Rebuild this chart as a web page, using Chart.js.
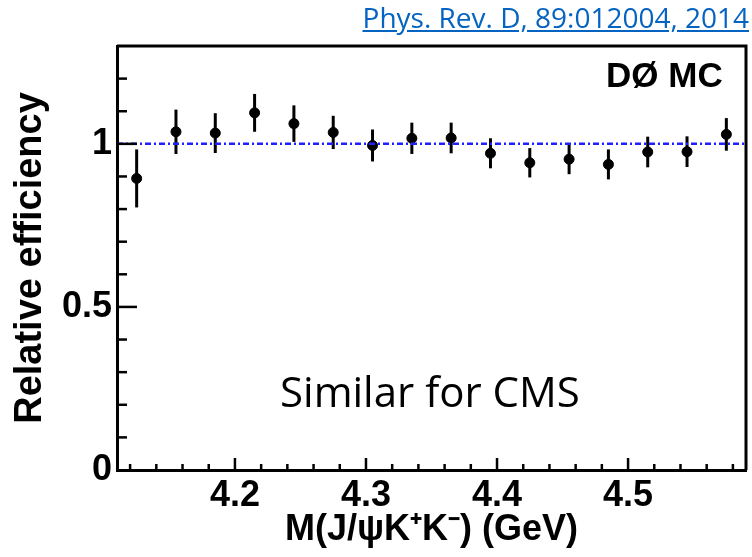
<!DOCTYPE html>
<html>
<head>
<meta charset="utf-8">
<script src="https://cdn.jsdelivr.net/npm/chart.js@4/dist/chart.umd.min.js"></script>
<style>
  body { margin: 0; background: white; }
  #wrap { position: relative; width: 752px; height: 557px; overflow: hidden; }
  #ref {
    position: absolute; right: 3px; top: 3px;
    font-family: "Open Sans"; font-size: 28px; line-height: 1;
    color: #0563c1; text-decoration: underline; white-space: nowrap;
  }
  #d0 {
    position: absolute; left: 606px; top: 57px;
    font-family: "Liberation Sans"; font-weight: bold; font-size: 35px; line-height: 1;
    white-space: nowrap;
  }
  #cms {
    position: absolute; left: 280px; top: 370px;
    font-family: "Open Sans"; font-size: 42px; line-height: 1;
    white-space: nowrap;
  }
</style>
</head>
<body>
<div id="wrap">
  <canvas id="chart1" width="752" height="557"></canvas>
  <a id="ref" href="https://doi.org/10.1103/PhysRevD.89.012004">Phys. Rev. D, 89:012004, 2014</a>
  <div id="d0">DØ MC</div>
  <div id="cms">Similar for CMS</div>
</div>
<script>
// bin centres of M(J/psi K+K-) in GeV, relative efficiency and its error
const massBins = [4.125, 4.155, 4.185, 4.215, 4.245, 4.275, 4.305, 4.335,
                  4.365, 4.395, 4.425, 4.455, 4.485, 4.515, 4.545, 4.575];
const relEff = [0.894, 1.037, 1.033, 1.095, 1.062, 1.035, 0.995, 1.017,
                1.018, 0.971, 0.942, 0.953, 0.937, 0.975, 0.976, 1.029];
const effErr = [0.089, 0.068, 0.061, 0.058, 0.056, 0.051, 0.049, 0.048,
                0.047, 0.046, 0.045, 0.046, 0.046, 0.047, 0.047, 0.05];

const xRange = [4.11, 4.59];
const yRange = [0, 1.3];
const xTickValues = [4.2, 4.3, 4.4, 4.5];
const yTickValues = [0, 0.5, 1];
const refLevel = 1;

const boldFont = { family: "Liberation Sans", weight: "bold", size: 36 };

// error bars, drawn under the markers
const errorBars = {
  id: "errorBars",
  beforeDatasetsDraw(chart) {
    const { ctx, scales } = chart;
    ctx.save();
    ctx.strokeStyle = "black";
    ctx.lineWidth = 3;
    massBins.forEach((m, i) => {
      const px = scales.x.getPixelForValue(m);
      ctx.beginPath();
      ctx.moveTo(px, scales.y.getPixelForValue(relEff[i] - effErr[i]));
      ctx.lineTo(px, scales.y.getPixelForValue(relEff[i] + effErr[i]));
      ctx.stroke();
    });
    ctx.restore();
  },
};

// ROOT style frame: top/right edges and ticks pointing inwards
const frameTicks = {
  id: "frameTicks",
  afterDraw(chart) {
    const { ctx, chartArea: a, scales } = chart;
    ctx.save();
    ctx.strokeStyle = "black";
    ctx.lineWidth = 3;
    ctx.beginPath();
    ctx.moveTo(a.left, a.top);
    ctx.lineTo(a.right, a.top);
    ctx.lineTo(a.right, a.bottom);
    ctx.stroke();

    ctx.lineWidth = 2.5;
    for (let i = 1; i <= 12; i++) {
      const py = scales.y.getPixelForValue(i / 10);
      const len = i % 5 === 0 ? 20 : 10;
      ctx.beginPath();
      ctx.moveTo(a.left, py);
      ctx.lineTo(a.left + len, py);
      ctx.stroke();
    }
    for (let k = 206; k <= 229; k++) {
      const px = scales.x.getPixelForValue(k * 0.02);
      const len = k % 5 === 0 ? 12 : 6;
      ctx.beginPath();
      ctx.moveTo(px, a.bottom);
      ctx.lineTo(px, a.bottom - len);
      ctx.stroke();
    }
    ctx.restore();
  },
};

var ctx = document.getElementById("chart1").getContext("2d");
var myChart = new Chart(ctx, {
  type: "scatter",
  data: {
    datasets: [
      {
        data: massBins.map((m, i) => ({ x: m, y: relEff[i] })),
        backgroundColor: "black",
        borderColor: "black",
        pointRadius: 5,
        pointHoverRadius: 5,
        order: 1,
      },
      {
        data: [
          { x: xRange[0], y: refLevel },
          { x: xRange[1], y: refLevel },
        ],
        showLine: true,
        borderColor: "#1f1fff",
        borderWidth: 2.5,
        borderDash: [6, 3, 2, 3],
        pointRadius: 0,
        order: 0,
      },
    ],
  },
  options: {
    responsive: false,
    animation: false,
    layout: { padding: { top: 46, right: 1, left: 0, bottom: 0 } },
    plugins: {
      legend: { display: false },
      tooltip: { enabled: false },
    },
    scales: {
      x: {
        type: "linear",
        min: xRange[0],
        max: xRange[1],
        afterBuildTicks: (s) => {
          s.ticks = xTickValues.map((v) => ({ value: v }));
        },
        afterFit: (s) => {
          s.height = 87;
        },
        grid: { display: false, drawTicks: false },
        border: { display: true, color: "black", width: 3 },
        ticks: {
          color: "black",
          font: boldFont,
          padding: 4,
          maxRotation: 0,
          autoSkip: false,
          callback: (v) => Number(v).toFixed(1),
        },
        title: {
          display: true,
          text: "M(J/ψK⁺K⁻) (GeV)",
          color: "black",
          font: boldFont,
          padding: { top: 0, bottom: 5 },
        },
      },
      y: {
        min: yRange[0],
        max: yRange[1],
        afterBuildTicks: (s) => {
          s.ticks = yTickValues.map((v) => ({ value: v }));
        },
        afterFit: (s) => {
          s.width = 117;
        },
        grid: { display: false, drawTicks: false },
        border: { display: true, color: "black", width: 3 },
        ticks: {
          color: "black",
          font: boldFont,
          padding: 5,
          callback: (v) => String(v),
        },
        title: {
          display: true,
          text: "Relative efficiency",
          color: "black",
          font: { family: "Liberation Sans", weight: "bold", size: 38 },
          padding: { top: 8, bottom: 0 },
        },
      },
    },
  },
  plugins: [errorBars, frameTicks],
});
</script>
</body>
</html>
